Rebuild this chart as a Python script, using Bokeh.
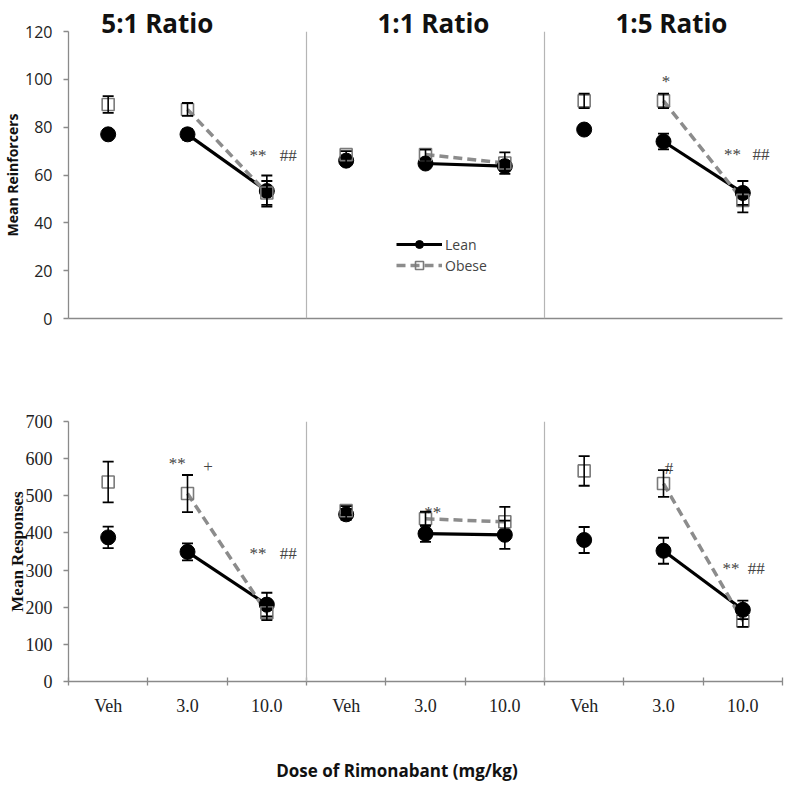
from bokeh.plotting import figure
from bokeh.models import (ColumnDataSource, Whisker, TeeHead, Span, Legend,
                          LegendItem, FixedTicker, Range1d, LinearAxis)
from bokeh.layouts import column
from bokeh.core.properties import value
from bokeh.embed import file_html
from bokeh.resources import INLINE

# ---------------- data ----------------
ratios = ["5:1 Ratio", "1:1 Ratio", "1:5 Ratio"]
doses = ["Veh", "3.0", "10.0"]
x_title = "Dose of Rimonabant (mg/kg)"

# Mean reinforcers (top) : order = 5:1 (Veh,3,10), 1:1 (...), 1:5 (...)
lean_reinf = [77, 77, 53.3, 66, 64.8, 63.7, 79, 74, 52.5]
lean_reinf_err = [1.5, 2.2, 6.5, 1.5, 1.5, 2, 1.5, 3.3, 5]
obese_reinf = [89.5, 87.4, 52.5, 68.5, 68.6, 65, 91, 91, 49.4]
obese_reinf_err = [3.5, 2.7, 5, 1.5, 2, 4.5, 3, 3, 5]

# Mean responses (bottom)
lean_resp = [388, 349, 207, 450, 398, 395, 381, 352, 193]
lean_resp_err = [29, 23, 32, 15, 22, 38, 35, 35, 25]
obese_resp = [537, 506, 185, 460, 438, 430, 567, 533, 163]
obese_resp_err = [55, 50, 20, 12, 19, 40, 40, 36, 16]

reinf_ticks = [0, 20, 40, 60, 80, 100, 120]
resp_ticks = [0, 100, 200, 300, 400, 500, 600, 700]

# significance marks: text, x (category units), y (value units)
top_notes_text = ["**", "##", "*", "**", "##"]
top_notes_x = [2.39, 2.77, 7.53, 8.37, 8.73]
top_notes_y = [68, 68, 99, 68.5, 68.5]

bot_notes_text = ["**", "+", "**", "##", "**", "#", "**", "##"]
bot_notes_x = [1.37, 1.76, 2.39, 2.77, 4.59, 7.57, 8.35, 8.67]
bot_notes_y = [588, 578, 344, 344, 455, 573, 304, 304]

title_x = [1.12, 4.6, 7.6]
x_title_pos = 4.14

n = len(ratios) * len(doses)
xc = [i + 0.5 for i in range(n)]  # category centres

SANS = "Open Sans"
SERIF = "Liberation Serif"
AXIS_GREY = "#8a8a8a"
OBESE_GREY = "#8c8c8c"


def add_series(p, lean, lean_err, obese, obese_err):
    nd = len(doses)
    lxs, lys, oxs, oys = [], [], [], []
    for k in range(len(ratios)):
        i1, i2 = k * nd + 1, k * nd + 2
        lxs.append([xc[i1], xc[i2]]); lys.append([lean[i1], lean[i2]])
        oxs.append([xc[i1], xc[i2]]); oys.append([obese[i1], obese[i2]])
    r_ll = p.multi_line(lxs, lys, line_color="black", line_width=3.2)
    r_ol = p.multi_line(oxs, oys, line_color=OBESE_GREY, line_width=3.5,
                        line_dash="9 5")
    r_lm = p.scatter(xc, lean, marker="circle", size=15, fill_color="black",
                     line_color="black")
    r_om = p.scatter(xc, obese, marker="square", size=12, fill_alpha=0,
                     line_color="#7a7a7a", line_width=1.6)
    for vals, errs in ((lean, lean_err), (obese, obese_err)):
        src = ColumnDataSource(dict(
            x=xc,
            up=[v + e for v, e in zip(vals, errs)],
            lo=[v - e for v, e in zip(vals, errs)]))
        w = Whisker(source=src, base="x", upper="up", lower="lo",
                    line_color="black", line_width=1.6, level="annotation",
                    upper_head=TeeHead(size=11, line_color="black", line_width=1.8),
                    lower_head=TeeHead(size=11, line_color="black", line_width=1.8))
        p.add_layout(w)
    for loc in (3, 6):
        p.add_layout(Span(location=loc, dimension="height",
                          line_color="#b5b5b5", line_width=1.2))
    return r_ll, r_lm, r_ol, r_om


def style_common(p):
    p.xgrid.visible = False
    p.ygrid.visible = False
    p.outline_line_color = None
    p.background_fill_color = "white"
    for ax in (p.xaxis[0], p.yaxis[0]):
        ax.axis_line_color = AXIS_GREY
        ax.axis_line_width = 1.3
        ax.major_tick_line_color = AXIS_GREY
        ax.major_tick_line_width = 1.3
        ax.minor_tick_line_color = None
        ax.axis_label_text_font_style = "bold"
        ax.axis_label_text_color = "#111111"
        ax.major_label_text_color = "#222222"


def label_axis(ticks, labels, font, size, standoff, bold=False):
    ax = LinearAxis(ticker=FixedTicker(ticks=ticks),
                    major_label_overrides=dict(zip(ticks, labels)))
    ax.axis_line_color = None
    ax.major_tick_line_color = None
    ax.minor_tick_line_color = None
    ax.major_tick_in = 0
    ax.major_tick_out = 0
    ax.major_label_standoff = standoff
    ax.major_label_text_font = font
    ax.major_label_text_font_size = size
    ax.major_label_text_color = "#111111"
    if bold:
        ax.major_label_text_font_style = "bold"
    return ax


# ---------------- top figure ----------------
top = figure(width=784, height=386, output_backend="svg", toolbar_location=None,
             x_range=Range1d(0, 9), y_range=Range1d(0, 120),
             min_border_left=60, min_border_right=2,
             min_border_top=31, min_border_bottom=68)
style_common(top)
top.xaxis.ticker = FixedTicker(ticks=[])
top.xaxis.major_label_text_font_size = "0px"
top.xaxis.major_tick_out = 0
top.yaxis.ticker = FixedTicker(ticks=reinf_ticks)
top.yaxis.major_tick_in = 0
top.yaxis.major_tick_out = 5
top.yaxis.major_label_standoff = 11
top.yaxis.major_label_text_font = SANS
top.yaxis.major_label_text_font_size = "16px"
top.yaxis.axis_label = "Mean Reinforcers"
top.yaxis.axis_label_text_font = SANS
top.yaxis.axis_label_text_font_size = "14px"
top.yaxis.axis_label_standoff = 0

top.add_layout(label_axis(title_x, ratios, SANS, "26px", -9, bold=True), "above")

r_ll, r_lm, r_ol, r_om = add_series(top, lean_reinf, lean_reinf_err,
                                    obese_reinf, obese_reinf_err)

top.text(top_notes_x, top_notes_y, text=top_notes_text,
         text_font=value(SERIF), text_font_size="17px", text_color="#444444",
         text_align="center", text_baseline="middle")

legend = Legend(items=[LegendItem(label="Lean", renderers=[r_ll, r_lm]),
                       LegendItem(label="Obese", renderers=[r_ol, r_om])],
                location=(328, 43), padding=0, margin=0, spacing=1,
                glyph_width=46, glyph_height=20, label_height=20,
                label_standoff=3, label_text_font=SANS,
                label_text_font_size="14px", background_fill_alpha=0,
                border_line_color=None)
top.add_layout(legend)

# ---------------- bottom figure ----------------
bot = figure(width=784, height=400, output_backend="svg", toolbar_location=None,
             x_range=Range1d(0, 9), y_range=Range1d(0, 700),
             min_border_left=60, min_border_right=2,
             min_border_top=35, min_border_bottom=105)
style_common(bot)
bot.xaxis.ticker = FixedTicker(ticks=xc, minor_ticks=list(range(n + 1)))
bot.xaxis.major_label_overrides = {x: doses[i % len(doses)] for i, x in enumerate(xc)}
bot.xaxis.major_tick_line_color = None
bot.xaxis.major_tick_out = 0
bot.xaxis.major_tick_in = 0
bot.xaxis.minor_tick_line_color = AXIS_GREY
bot.xaxis.minor_tick_line_width = 1.3
bot.xaxis.minor_tick_in = 4
bot.xaxis.minor_tick_out = 4
bot.xaxis.major_label_standoff = 10
bot.xaxis.major_label_text_font = SERIF
bot.xaxis.major_label_text_font_size = "18px"
bot.yaxis.ticker = FixedTicker(ticks=resp_ticks)
bot.yaxis.major_tick_in = 0
bot.yaxis.major_tick_out = 5
bot.yaxis.major_label_standoff = 11
bot.yaxis.major_label_text_font = SERIF
bot.yaxis.major_label_text_font_size = "18px"
bot.yaxis.axis_label = "Mean Responses"
bot.yaxis.axis_label_text_font = SERIF
bot.yaxis.axis_label_text_font_size = "17px"
bot.yaxis.axis_label_standoff = -4

bot.add_layout(label_axis([x_title_pos], [x_title], SANS, "17px", 40, bold=True),
               "below")

add_series(bot, lean_resp, lean_resp_err, obese_resp, obese_resp_err)

bot.text(bot_notes_x, bot_notes_y, text=bot_notes_text,
         text_font=value(SERIF), text_font_size="17px", text_color="#444444",
         text_align="center", text_baseline="middle")

layout = column(top, bot, spacing=0)
open("out.html", "w").write(file_html(layout, INLINE))
